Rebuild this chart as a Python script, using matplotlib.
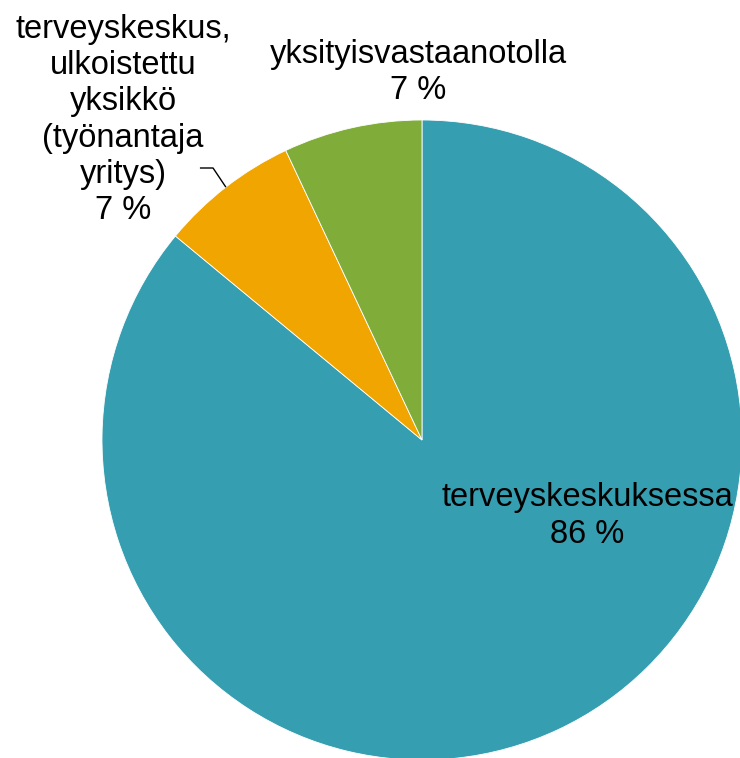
import numpy as np
import matplotlib
matplotlib.use("Agg")
import matplotlib.pyplot as plt

plt.rcParams['font.family'] = ['Liberation Sans', 'DejaVu Sans']

categories = ["terveyskeskuksessa",
              "terveyskeskus,\nulkoistettu\nyksikkö\n(työnantaja\nyritys)",
              "yksityisvastaanotolla"]
values = [86, 7, 7]
colors = ["#359EB0", "#F0A500", "#80AD3A"]

fig = plt.figure(figsize=(7.40, 7.58), dpi=100)
ax = fig.add_axes([0, 0, 1, 1])
wedges, _ = ax.pie(values, colors=colors, startangle=90, counterclock=False,
                   radius=1, center=(0, 0),
                   wedgeprops=dict(edgecolor="white", linewidth=0.6))
ax.set_aspect('auto')
ax.set_xlim(-422 / 320, (740 - 422) / 320)
ax.set_ylim((440 - 758) / 320, 440 / 320)
ax.axis('off')

fs = 23.5
ls = 1.21
labels = [f"{c}\n{v} %" for c, v in zip(categories, values)]
ax.text(0.516, -0.2375, labels[0], ha='center', va='center', fontsize=fs,
        color='black', linespacing=ls)
ax.text(-0.0125, 1.147, labels[2], ha='center', va='center', fontsize=fs,
        color='black', linespacing=ls)
ax.text(-0.934, 1.0, labels[1], ha='center', va='center', fontsize=fs,
        color='black', linespacing=ls)

# leader line for the orange slice
w = wedges[1]
mid = np.deg2rad((w.theta1 + w.theta2) / 2)
ex, ey = np.cos(mid), np.sin(mid)
ax.plot([-0.694, -0.653, ex], [0.85, 0.85, ey], color='black', lw=1.0,
        solid_capstyle='butt')

fig.savefig("out.png", dpi=100, facecolor='white')
